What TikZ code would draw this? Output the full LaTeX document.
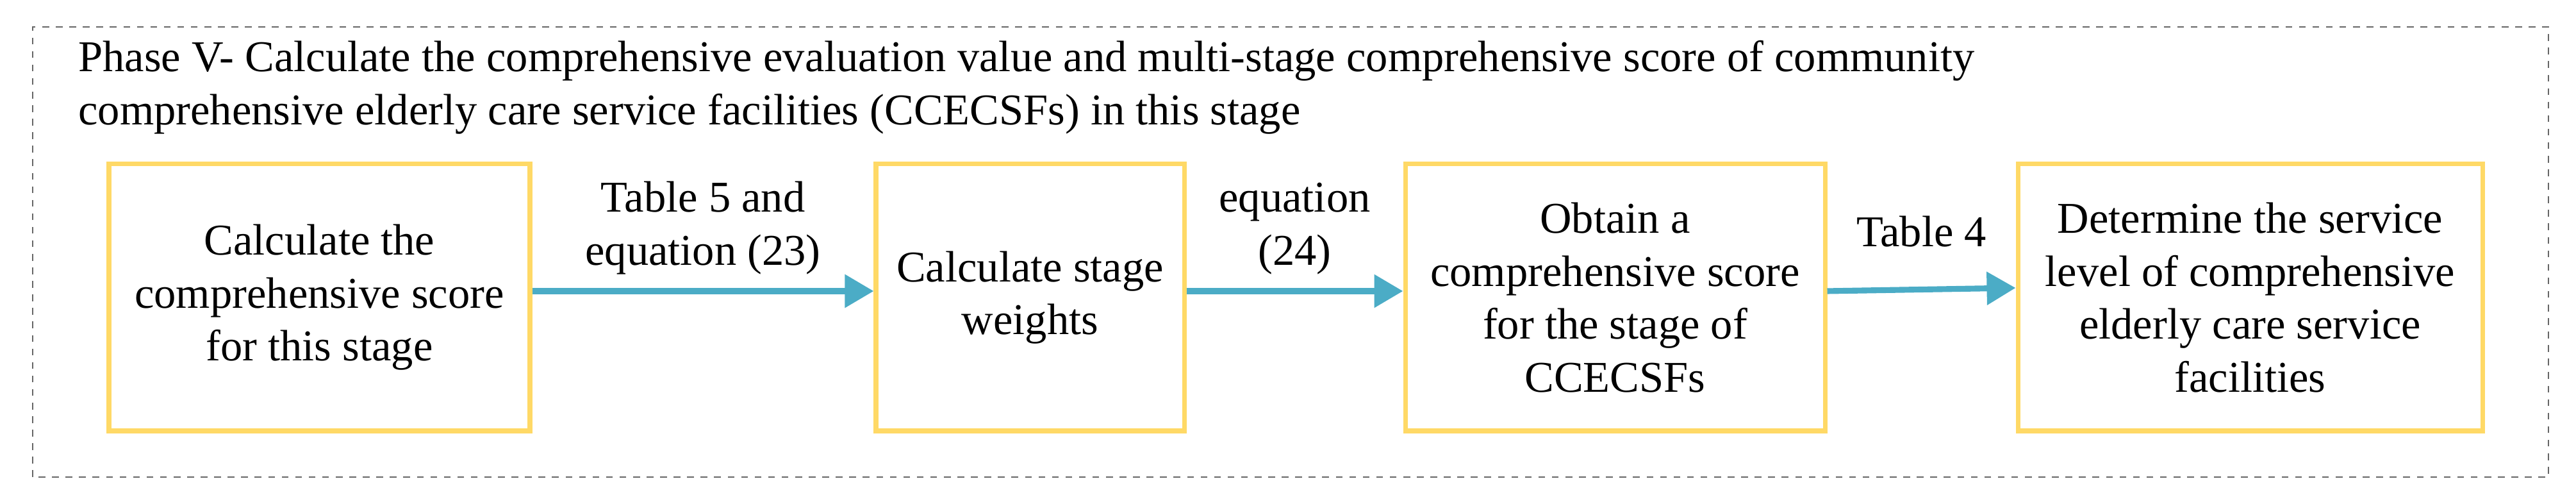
\documentclass[tikz,border=0pt]{standalone}
\usepackage{fontspec}
\setmainfont{Liberation Serif}
\usetikzlibrary{arrows.meta,positioning}
\definecolor{boxline}{HTML}{FFD966}
\definecolor{flow}{HTML}{4BACC6}

\begin{document}
\begin{tikzpicture}[
 stagebox/.style={draw=boxline,line width=2pt,minimum height=4.16cm,align=center,
   font=\fontsize{19.5}{23.5}\selectfont},
 link/.style={draw=flow,line width=2.6pt,-{Triangle[length=0.45cm,width=0.5cm]}},
 tag/.style={align=center,font=\fontsize{19.5}{23.5}\selectfont,anchor=south}]
\useasboundingbox (0,0) rectangle (40.2,7.86);
\draw[dashed,gray!80!black,line width=0.5pt] (0.51,0.42) rectangle (39.77,7.44);
\node[anchor=north west,align=left,font=\fontsize{19.5}{23.5}\selectfont] (title) at (1.1,7.35)
  {Phase V- Calculate the comprehensive evaluation value and multi-stage comprehensive score of community\\
   comprehensive elderly care service facilities (CCECSFs) in this stage};
\node[stagebox,minimum width=6.57cm] (s1) at (4.985,3.22) {Calculate the\\comprehensive score\\for this stage};
\node[stagebox,minimum width=4.81cm] (s2) at (16.075,3.22) {Calculate stage\\weights};
\node[stagebox,minimum width=6.55cm] (s3) at (25.205,3.22) {Obtain a\\comprehensive score\\for the stage of\\CCECSFs};
\node[stagebox,minimum width=7.25cm] (s4) at (35.115,3.22) {Determine the service\\level of comprehensive\\elderly care service\\facilities};
% connectors
\draw[link] ([yshift=1mm]s1.east) -- node[tag,above=1mm] (t1) {Table 5 and\\equation (23)} ([yshift=1mm]s2.west);
\draw[link] ([yshift=1mm]s2.east) -- node[tag,above=1mm] (t2) {equation\\(24)} ([yshift=1mm]s3.west);
\draw[link] ([yshift=1mm]s3.east) -- node[tag,above=5mm] (t3) {Table 4} ([yshift=1.5mm]s4.west);
\end{tikzpicture}
\end{document}
